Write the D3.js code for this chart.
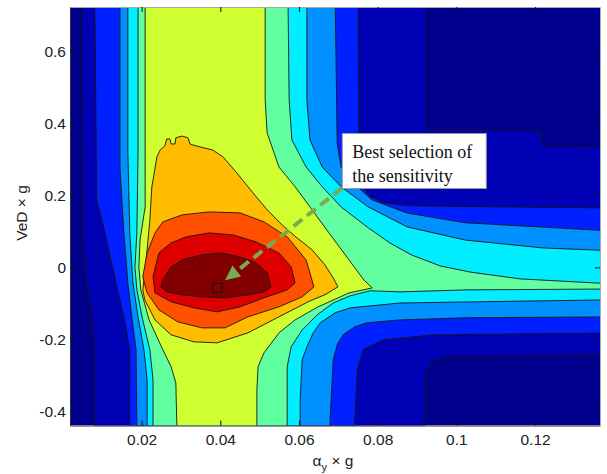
<!DOCTYPE html>
<html>
<head>
<meta charset="utf-8">
<title>contour</title>
<script src="https://cdn.jsdelivr.net/npm/d3@7"></script>
<style>
  body { margin: 0; background: #fff; }
</style>
</head>
<body>
<script>
// axis ticks
const xTicks = [0.02, 0.04, 0.06, 0.08, 0.1, 0.12];
const yTicks = [-0.4, -0.2, 0, 0.2, 0.4, 0.6];

// colour of each filled level (0 = lowest)
const levelColors = ["#00008c", "#0000b4", "#0020ff", "#0090ff", "#00eeff",
  "#62ffa0", "#cfff30", "#ffbc00", "#ff5000", "#de0000", "#820000"];

// region where value >= level k, outline (x, y)
const level1 = [[0.0048, 0.75], [0.0048, 0.465], [0.0051, 0.076], [0.0059, -0.035], [0.0071, -0.118],
  [0.0079, -0.201], [0.0081, -0.46], [0.0920, -0.46], [0.0920, -0.299], [0.0938, -0.263], [0.0971, -0.249],
  [0.14, -0.243], [0.14, 0.335], [0.1220, 0.338], [0.1213, 0.382], [0.0923, 0.382], [0.0923, 0.75]];
const level2 = [[0.0081, 0.75], [0.0086, 0.1875], [0.0107, 0.096], [0.0135, -0.043], [0.0155, -0.1375],
  [0.0170, -0.229], [0.0170, -0.46], [0.0742, -0.46], [0.0742, -0.424], [0.0748, -0.285], [0.0763, -0.229],
  [0.0814, -0.201], [0.0941, -0.1875], [0.14, -0.182], [0.14, 0.165], [0.1111, 0.168], [0.0882, 0.171],
  [0.0819, 0.179], [0.0781, 0.196], [0.0760, 0.224], [0.0753, 0.257], [0.0750, 0.75]];
const level3 = [[0.0145, 0.75], [0.0145, 0.279], [0.0155, 0.096], [0.0165, -0.043], [0.0175, -0.1375],
  [0.0186, -0.229], [0.0188, -0.46], [0.0679, -0.46], [0.0679, -0.424], [0.0687, -0.257], [0.0697, -0.215],
  [0.0712, -0.1875], [0.0742, -0.165], [0.0773, -0.154], [0.0857, -0.146], [0.1027, -0.140], [0.14, -0.1375],
  [0.14, 0.101], [0.1022, 0.124], [0.0875, 0.151], [0.0786, 0.1875], [0.0737, 0.235], [0.0707, 0.279],
  [0.0697, 0.346], [0.0692, 0.75]];
const level4 = [[0.0165, 0.75], [0.0165, 0.326], [0.0170, 0.096], [0.0178, -0.043], [0.0191, -0.1375],
  [0.0206, -0.229], [0.0214, -0.313], [0.0214, -0.46], [0.0603, -0.46], [0.0603, -0.368], [0.0608, -0.257],
  [0.0620, -0.221], [0.0636, -0.182], [0.0654, -0.154], [0.0692, -0.126], [0.0730, -0.1125], [0.0857, -0.099],
  [0.1027, -0.096], [0.14, -0.090], [0.14, 0.046], [0.1220, 0.054], [0.1022, 0.076], [0.0875, 0.1125],
  [0.0776, 0.168], [0.0707, 0.224], [0.0659, 0.279], [0.0628, 0.354], [0.0620, 0.465], [0.0620, 0.75]];
const level5 = [[0.0191, 0.75], [0.0191, 0.326], [0.0188, 0.096], [0.0183, 0.0], [0.0188, -0.0625],
  [0.0201, -0.1375], [0.0221, -0.229], [0.0229, -0.313], [0.0229, -0.46], [0.0570, -0.46], [0.0570, -0.276],
  [0.0580, -0.221], [0.0608, -0.174], [0.0646, -0.132], [0.0687, -0.099], [0.0730, -0.079], [0.0781, -0.065],
  [0.0857, -0.068], [0.1027, -0.0625], [0.14, -0.060], [0.14, -0.046], [0.1162, -0.032], [0.1035, -0.013],
  [0.0959, 0.004], [0.0885, 0.035], [0.0831, 0.068], [0.0776, 0.110], [0.0707, 0.168], [0.0659, 0.224],
  [0.0618, 0.279], [0.0582, 0.354], [0.0575, 0.465], [0.0572, 0.75]];
const level6 = [[0.0209, 0.75], [0.0209, 0.168], [0.0196, 0.076], [0.0193, 0.0], [0.0198, -0.0625],
  [0.0219, -0.146], [0.0254, -0.229], [0.0275, -0.276], [0.0287, -0.321], [0.0290, -0.46], [0.0493, -0.46],
  [0.0493, -0.340], [0.0496, -0.276], [0.0511, -0.2375], [0.0549, -0.182], [0.0590, -0.146], [0.0648, -0.110],
  [0.0727, -0.071], [0.0786, -0.057], [0.0765, -0.035], [0.0727, 0.021], [0.0676, 0.096], [0.0628, 0.168],
  [0.0590, 0.224], [0.0549, 0.279], [0.0519, 0.374], [0.0514, 0.465], [0.0514, 0.75]];
const level7 = [[0.0203, -0.0625], [0.0209, -0.007], [0.0214, 0.049], [0.0221, 0.132], [0.0226, 0.224],
  [0.0239, 0.307], [0.0247, 0.326], [0.0259, 0.338], [0.0264, 0.357], [0.0272, 0.357], [0.0275, 0.343],
  [0.0285, 0.343], [0.0287, 0.360], [0.0303, 0.365], [0.0318, 0.360], [0.0323, 0.343], [0.0331, 0.340],
  [0.0348, 0.335], [0.0381, 0.326], [0.0407, 0.307], [0.0442, 0.2625], [0.0483, 0.207], [0.0519, 0.160],
  [0.0557, 0.118], [0.0595, 0.082], [0.0633, 0.049], [0.0666, 0.0069], [0.0687, -0.0292], [0.0699, -0.054],
  [0.0666, -0.076], [0.0628, -0.093], [0.0549, -0.1375], [0.0470, -0.182], [0.0392, -0.2097], [0.0333, -0.2069],
  [0.0275, -0.1875], [0.0234, -0.146], [0.0208, -0.090]];
const level8 = [[0.0203, -0.0264], [0.0214, 0.0403], [0.0234, 0.0958], [0.0254, 0.1264], [0.0303, 0.1458],
  [0.0371, 0.1542], [0.0450, 0.1514], [0.0511, 0.1264], [0.0570, 0.0847], [0.0618, 0.0208], [0.0638, -0.0542],
  [0.0608, -0.0819], [0.0549, -0.1097], [0.0470, -0.1375], [0.0412, -0.1681], [0.0353, -0.1681],
  [0.0292, -0.1514], [0.0244, -0.1181], [0.0214, -0.0708]];
const level9 = [[0.0229, -0.0264], [0.0244, 0.0403], [0.0275, 0.0681], [0.0313, 0.0847], [0.0371, 0.0958],
  [0.0432, 0.0903], [0.0491, 0.0708], [0.0549, 0.0403], [0.0580, 0.0014], [0.0590, -0.0431], [0.0570, -0.0625],
  [0.0511, -0.0847], [0.0450, -0.1097], [0.0392, -0.1236], [0.0333, -0.1125], [0.0275, -0.0958], [0.0234, -0.0708]];
const level10 = [[0.0249, -0.0542], [0.0254, -0.0347], [0.0275, 0.0014], [0.0303, 0.0208], [0.0353, 0.0347],
  [0.0402, 0.0403], [0.0450, 0.0292], [0.0491, 0.0125], [0.0519, -0.0153], [0.0529, -0.0542], [0.0511, -0.0681],
  [0.0470, -0.0764], [0.0412, -0.0847], [0.0353, -0.0819], [0.0303, -0.0764], [0.0264, -0.0681]];
const regions = [level1, level2, level3, level4, level5, level6, level7, level8, level9, level10];

// annotation
const bestPoint = [0.0393, -0.057];
const arrowFrom = [0.0710, 0.221];
const arrowTo = [0.0412, -0.036];
const noteCorner = [0.0710, 0.372];
const noteLines = ["Best selection of", "the sensitivity"];

const W = 607, H = 474;
const margin = { top: 7, right: 7, bottom: 48.5, left: 70 };
const sans = "'Liberation Sans', Arial, sans-serif";
const serif = "'Liberation Serif', 'Times New Roman', serif";

const svg = d3.select("body").append("svg")
  .attr("width", W).attr("height", H);

const x = d3.scaleLinear().domain([0.0018, 0.1365]).range([margin.left, W - margin.right]);
const y = d3.scaleLinear().domain([-0.4394, 0.7236]).range([H - margin.bottom, margin.top]);

svg.append("clipPath").attr("id", "plot")
  .append("rect")
  .attr("x", margin.left).attr("y", margin.top)
  .attr("width", W - margin.left - margin.right)
  .attr("height", H - margin.top - margin.bottom);

const g = svg.append("g").attr("clip-path", "url(#plot)");

g.append("rect")
  .attr("x", margin.left).attr("y", margin.top)
  .attr("width", W - margin.left - margin.right)
  .attr("height", H - margin.top - margin.bottom)
  .attr("fill", levelColors[0]);

const line = d3.line().x(d => x(d[0])).y(d => y(d[1]));

g.selectAll("path.level")
  .data(regions)
  .enter()
  .append("path")
  .attr("class", "level")
  .attr("d", d => line(d) + "Z")
  .attr("fill", (d, i) => levelColors[i + 1])
  .attr("stroke", "#151515")
  .attr("stroke-width", 0.9)
  .attr("stroke-linejoin", "round");

// axes with inward ticks
const fs = "15.5px";
const bottomAxis = d3.axisBottom(x).tickValues(xTicks).tickSize(-5).tickSizeOuter(0).tickPadding(8)
  .tickFormat(d => String(+d.toFixed(2)));
const leftAxis = d3.axisLeft(y).tickValues(yTicks).tickSize(-5).tickSizeOuter(0).tickPadding(4)
  .tickFormat(d => String(+d.toFixed(1)));

const gx = svg.append("g").attr("transform", "translate(0," + (H - margin.bottom) + ")").call(bottomAxis);
const gy = svg.append("g").attr("transform", "translate(" + margin.left + ",0)").call(leftAxis);
const gt = svg.append("g").attr("transform", "translate(0," + margin.top + ")")
  .call(d3.axisTop(x).tickValues(xTicks).tickSize(-5).tickSizeOuter(0).tickFormat(""));
const gr = svg.append("g").attr("transform", "translate(" + (W - margin.right) + ",0)")
  .call(d3.axisRight(y).tickValues(yTicks).tickSize(-5).tickSizeOuter(0).tickFormat(""));

[gx, gy].forEach(a => {
  a.select(".domain").attr("stroke", "#333");
  a.selectAll(".tick line").attr("stroke", "#111");
  a.selectAll("text").style("font-size", fs).style("font-family", sans).attr("fill", "#222");
});
[gt, gr].forEach(a => {
  a.select(".domain").attr("stroke", "#aaa");
  a.selectAll(".tick line").attr("stroke", "#111");
});

// axis titles
const xt = svg.append("text")
  .attr("x", 333).attr("y", 466)
  .attr("text-anchor", "middle")
  .style("font-size", fs).style("font-family", sans).attr("fill", "#222");
xt.append("tspan").text("\u03b1");
xt.append("tspan").style("font-size", "11px").attr("dy", 5).text("y");
xt.append("tspan").attr("dy", -5).text(" \u00d7 g");

svg.append("text")
  .attr("transform", "translate(27,213) rotate(-90)")
  .attr("text-anchor", "middle")
  .style("font-size", fs).style("font-family", sans).attr("fill", "#222")
  .text("VeD \u00d7 g");

// annotation box, arrow and marker
const ann = svg.append("g");
const green = "#78ab50";
const x0 = x(arrowFrom[0]), y0 = y(arrowFrom[1]);
const x1 = x(arrowTo[0]), y1 = y(arrowTo[1]);
const ang = Math.atan2(y1 - y0, x1 - x0);
const headLen = 15, headW = 7;
const bx = x1 - headLen * Math.cos(ang), by = y1 - headLen * Math.sin(ang);

ann.append("line")
  .attr("x1", x0).attr("y1", y0).attr("x2", bx).attr("y2", by)
  .attr("stroke", green).attr("stroke-width", 4)
  .attr("stroke-dasharray", "11,6");
ann.append("path")
  .attr("d", d3.line()([
    [x1, y1],
    [bx + headW * Math.sin(ang), by - headW * Math.cos(ang)],
    [bx - headW * Math.sin(ang), by + headW * Math.cos(ang)]
  ]) + "Z")
  .attr("fill", green);

ann.append("rect")
  .attr("x", x(bestPoint[0]) - 4.5).attr("y", y(bestPoint[1]) - 4.5)
  .attr("width", 9).attr("height", 9)
  .attr("fill", "none").attr("stroke", "#111").attr("stroke-width", 1);

const nx = x(noteCorner[0]), ny = y(noteCorner[1]);
ann.append("rect")
  .attr("x", nx).attr("y", ny).attr("width", 144).attr("height", 55)
  .attr("fill", "#fff").attr("stroke", "#9a9a9a").attr("stroke-width", 1);
ann.selectAll("text.note")
  .data(noteLines)
  .enter()
  .append("text")
  .attr("class", "note")
  .attr("x", nx + 10)
  .attr("y", (d, i) => ny + 24 + i * 24)
  .style("font-family", serif)
  .style("font-size", "18px")
  .attr("fill", "#111")
  .text(d => d);
</script>
</body>
</html>
